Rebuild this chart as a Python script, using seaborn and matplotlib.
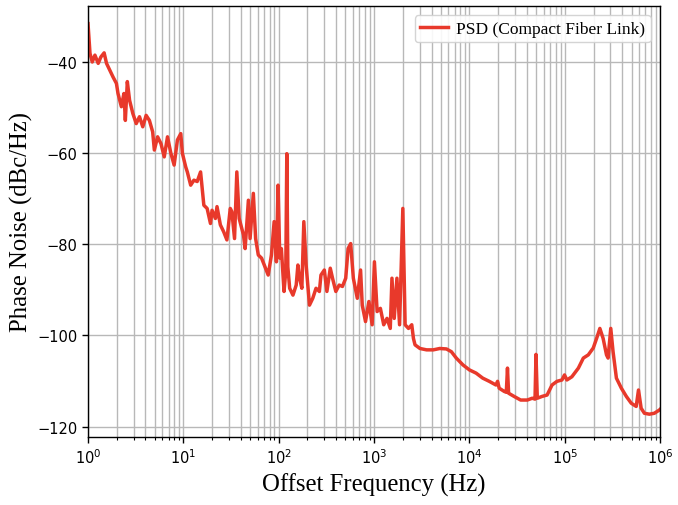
import matplotlib
matplotlib.use("Agg")
import matplotlib.pyplot as plt
import seaborn as sns
import pandas as pd
import numpy as np
from matplotlib.ticker import LogLocator, NullFormatter

freq_hz = [
    1.0, 1.049, 1.108, 1.182, 1.279, 1.364, 1.476, 1.564, 1.692, 1.831,
    1.986, 2.063, 2.238, 2.381, 2.463, 2.584, 2.729, 2.953, 3.204, 3.467,
    3.751, 4.069, 4.401, 4.763, 4.961, 5.368, 5.822, 6.301, 6.817, 7.393,
    8.0, 8.66, 9.39, 9.76, 10.58, 11.0, 11.93, 12.9, 13.96, 15.15,
    16.39, 17.74, 19.24, 19.98, 21.68, 22.52, 24.42, 26.44, 28.6, 31.02,
    32.23, 34.39, 36.34, 38.47, 42.65, 44.42, 48.05, 50.04, 54.15, 57.22,
    61.03, 66.05, 71.64, 77.5, 83.85, 89.45, 94.5, 98.4, 102.5, 106.5,
    113.6, 118.5, 121.5, 124.5, 130.2, 140.9, 152.4, 158.8, 165.4, 174.7,
    183.2, 193.6, 210, 227.3, 245.9, 266.7, 277.1, 300.6, 319.8, 346.9,
    366.5, 396.6, 430.2, 465.5, 503.8, 533.6, 567.8, 605.5, 666.2, 720.9,
    750.7, 812.3, 881.4, 953.5, 1007, 1075, 1163, 1261, 1365, 1477,
    1538, 1625, 1734, 1849, 2000, 2114, 2293, 2481, 2584, 2685,
    3025, 3551, 4168, 4880, 5728, 6454, 7272, 8538, 9996, 11730,
    13770, 16120, 18920, 19710, 20480, 23080, 24320, 25020, 25700, 29310,
    34400, 40370, 45500, 48640, 49800, 51400, 57800, 65120, 73380, 82700,
    93200, 99150, 105000, 118400, 138600, 156200, 176000, 198400, 215100, 232800,
    251900, 273300, 283900, 302900, 320100, 347100, 391200, 440900, 496800, 559800,
    591500, 630800, 682600, 769100, 866900, 977000, 1000000,
]

phase_noise_dbc = [
    -31.7, -38.2, -40.1, -38.6, -40.4, -39.0, -38.1, -40.4, -41.9, -43.4,
    -44.8, -47.0, -49.9, -47.0, -52.9, -44.4, -48.5, -51.4, -53.6, -52.1,
    -54.3, -51.8, -52.9, -55.4, -59.4, -56.5, -58.0, -60.9, -56.5, -60.1,
    -62.7, -57.2, -55.8, -60.1, -63.1, -64.2, -67.1, -66.0, -66.3, -64.2,
    -71.5, -72.2, -75.5, -72.6, -74.4, -71.8, -75.8, -77.3, -79.1, -72.2,
    -72.9, -78.8, -64.2, -74.4, -78.0, -81.0, -70.4, -78.8, -68.9, -78.8,
    -82.4, -83.1, -85.0, -86.8, -82.4, -75.1, -83.9, -67.1, -83.1, -81.0,
    -90.4, -86.0, -60.2, -85.0, -89.7, -91.2, -89.0, -84.6, -87.5, -89.7,
    -75.1, -84.6, -93.4, -91.9, -89.7, -90.4, -86.8, -85.7, -90.4, -85.3,
    -87.5, -90.4, -89.0, -89.3, -87.5, -81.0, -79.9, -87.5, -91.9, -85.7,
    -93.4, -97.0, -92.6, -97.7, -83.9, -94.8, -94.1, -97.7, -96.3, -98.5,
    -87.5, -96.3, -87.5, -97.7, -72.2, -97.7, -98.5, -97.7, -100.7, -102.1,
    -102.9, -103.2, -103.2, -102.9, -103.0, -103.6, -105.0, -106.5, -107.6, -108.3,
    -109.4, -110.1, -110.9, -110.1, -111.6, -112.3, -112.5, -107.2, -112.7, -113.4,
    -114.2, -114.2, -113.8, -114.0, -104.2, -113.8, -113.4, -113.1, -110.9, -110.1,
    -109.8, -108.7, -109.8, -109.1, -107.2, -105.0, -104.3, -102.8, -100.7, -98.5,
    -100.7, -104.3, -105.0, -98.5, -103.6, -109.4, -111.6, -113.4, -114.9, -115.6,
    -112.0, -116.0, -117.1, -117.3, -117.1, -116.4, -116.2,
]

series_label = "PSD (Compact Fiber Link)"
x_label = "Offset Frequency (Hz)"
y_label = "Phase Noise (dBc/Hz)"
x_ticks = [1, 10, 100, 1000, 10000, 100000, 1000000]
y_ticks = [-120, -100, -80, -60, -40]

df = pd.DataFrame({"f": freq_hz, "L": phase_noise_dbc, "s": series_label})

fig = plt.figure(figsize=(6.78, 5.06), dpi=100)
ax = fig.add_axes([0.1298, 0.1344, 0.844, 0.852])

sns.lineplot(data=df, x="f", y="L", hue="s", palette=["#e8392b"],
             estimator=None, sort=False, linewidth=2.5, ax=ax)

ax.set_xscale("log")
ax.set_xticks(x_ticks)
ax.xaxis.set_minor_locator(LogLocator(base=10, subs=np.arange(2, 10), numticks=100))
ax.xaxis.set_minor_formatter(NullFormatter())
ax.set_xlim(1, 1e6)
ax.set_ylim(-122.3, -27.8)
ax.set_yticks(y_ticks)

ax.grid(True, which="major", axis="both", color="#b8b8b8", linewidth=1.0)
ax.grid(True, which="minor", axis="x", color="#b8b8b8", linewidth=1.0)
ax.set_axisbelow(True)

ax.tick_params(axis="both", which="major", labelsize=10.5, length=4, width=1)
ax.tick_params(axis="x", which="minor", length=2.5, width=0.8)
for sp in ax.spines.values():
    sp.set_color("black")
    sp.set_linewidth(1.0)

serif = ["Liberation Serif", "DejaVu Serif"]
ax.set_xlabel(x_label, fontsize=17.8, family=serif, labelpad=5)
ax.set_ylabel(y_label, fontsize=17.8, family=serif, labelpad=3)

leg = ax.legend(loc="upper right", prop={"family": serif, "size": 12.5},
                frameon=True, handlelength=1.6, handletextpad=0.5,
                borderpad=0.3, borderaxespad=0.55)
leg.get_frame().set_edgecolor("#d0d0d0")
leg.get_frame().set_alpha(0.9)

fig.savefig("out.png", dpi=100)
